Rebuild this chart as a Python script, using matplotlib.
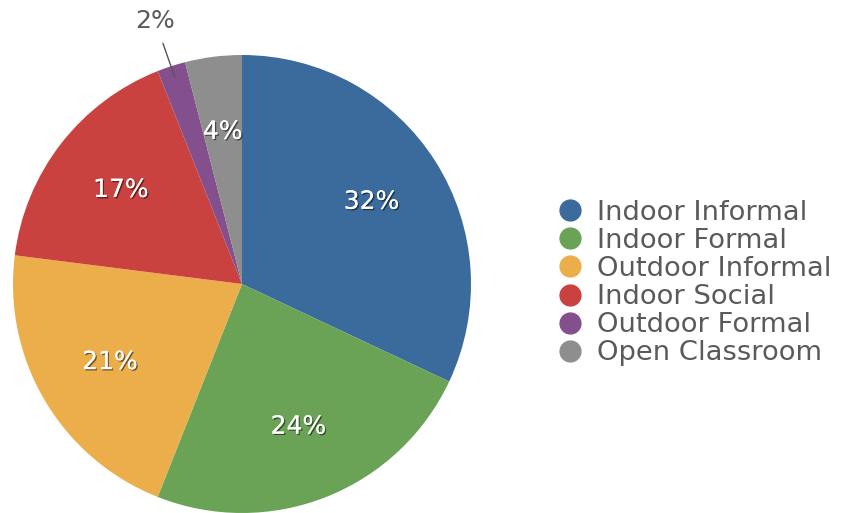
import matplotlib
matplotlib.use("Agg")
import matplotlib.pyplot as plt
import matplotlib.patheffects as pe
from matplotlib.lines import Line2D
import numpy as np

plt.rcParams['font.family'] = ['DejaVu Sans']

# data
categories = ["Indoor Informal", "Indoor Formal", "Outdoor Informal",
              "Indoor Social", "Outdoor Formal", "Open Classroom"]
shares = [32, 24, 21, 17, 2, 4]
colors = ["#3b6a9c", "#6aa356", "#ebae4b", "#ca4240", "#844f8d", "#8d8e8d"]

W, H = 841, 513
fig = plt.figure(figsize=(W / 100, H / 100), dpi=100)

# pie centre (242, 284) px, radius 229 px
cx, cy, r = 242, 284, 229
ax = fig.add_axes([(cx - r) / W, (H - cy - r) / H, 2 * r / W, 2 * r / H])

wedges, _ = ax.pie(shares, colors=colors, startangle=90, counterclock=False,
                   radius=1.0, wedgeprops=dict(linewidth=0))
ax.set_xlim(-1, 1)
ax.set_ylim(-1, 1)
ax.axis('off')

shadow = [pe.withSimplePatchShadow(offset=(1, -1), shadow_rgbFace='black', alpha=0.5),
          pe.Normal()]

for w, v in zip(wedges, shares):
    ang = np.deg2rad((w.theta1 + w.theta2) / 2)
    if v >= 3:
        ax.text(0.67 * np.cos(ang), 0.67 * np.sin(ang), f"{v}%",
                ha='center', va='center', color='white', fontsize=18,
                path_effects=shadow)
    else:
        ax.annotate(f"{v}%", xy=(0.95 * np.cos(ang), 0.95 * np.sin(ang)),
                    xytext=(-0.38, 1.15), ha='center', va='center',
                    color='#5a5a5a', fontsize=18,
                    arrowprops=dict(arrowstyle='-', color='#555555', lw=1,
                                    shrinkA=6, shrinkB=0))

handles = [Line2D([], [], marker='o', linestyle='', markersize=15,
                  markerfacecolor=c, markeredgecolor=c) for c in colors]
fig.legend(handles, categories, loc='center left',
           bbox_to_anchor=(529 / W, 1 - 283 / H), frameon=False,
           fontsize=19.7, labelspacing=0.08, handletextpad=0.4,
           handlelength=1.2, labelcolor='#5a5a5a')

fig.savefig("out.png", dpi=100)
